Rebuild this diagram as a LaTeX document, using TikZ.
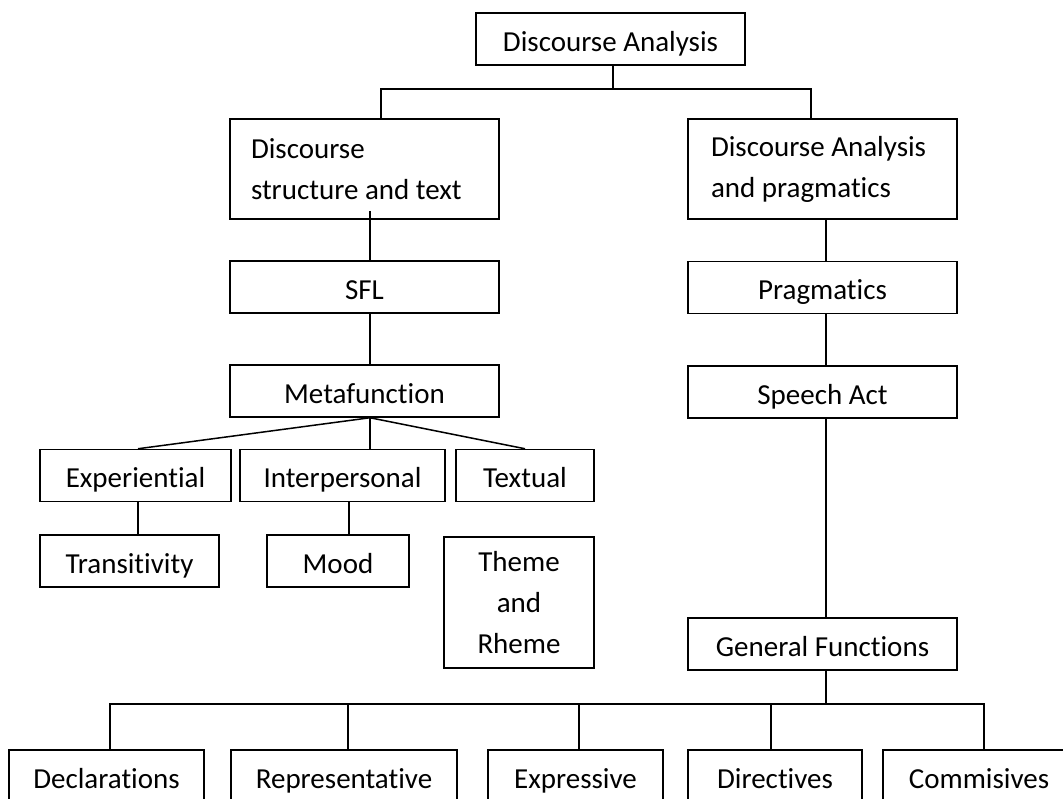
\documentclass[tikz,border=0pt]{standalone}
\usepackage{fontspec}
\setmainfont{Carlito}[Ligatures={NoCommon}, RawFeature={-liga;-clig;-dlig}]

\begin{document}
\begin{tikzpicture}[
    x=1pt, y=-1pt,
    every node/.style={font=\fontsize{29}{41}\selectfont},
    boxed/.style={rectangle, draw, line width=1.5pt, inner sep=0pt},
    topic/.style={boxed, minimum height=52pt, text height=24pt, text depth=0pt},
    twoline/.style={boxed, minimum width=269pt, minimum height=100pt, align=flush left},
    link/.style={draw, line width=1.5pt}
]
\useasboundingbox (0,0) rectangle (1063,798);
\clip (0,0) rectangle (1063,798);

% upper levels
\node[topic, minimum width=269pt] (da) at (610.5,39) {Discourse Analysis};
\node[twoline, text width=227pt] (dst) at (364.5,169) {Discourse\\structure and text};
\node[twoline, text width=223pt] (dap) at (822.5,169) {Discourse Analysis\\and pragmatics};

% SFL side
\node[topic, minimum width=269pt] (sfl) at (364.5,287) {SFL};
\node[topic, minimum width=269pt] (meta) at (364.5,391) {Metafunction};
\node[topic, minimum width=191pt] (exp) at (135.5,475.5) {Experiential};
\node[topic, minimum width=205pt] (inter) at (342.5,475.5) {Interpersonal};
\node[topic, minimum width=138pt] (txt) at (525,475.5) {Textual};
\node[topic, minimum width=179pt] (trans) at (129.5,561) {Transitivity};
\node[topic, minimum width=142pt] (mood) at (338,561) {Mood};
\node[boxed, minimum width=150pt, minimum height=131pt, align=center] (theme) at (519,602.5) {Theme\\and\\Rheme};

% pragmatics side
\node[topic, minimum width=269pt] (prag) at (822.5,287.5) {Pragmatics};
\node[topic, minimum width=269pt] (sact) at (822.5,392) {Speech Act};
\node[topic, minimum width=269pt] (genf) at (822.5,644) {General Functions};

% bottom row
\node[topic, minimum width=195pt] (decl) at (106.5,776) {Declarations};
\node[topic, minimum width=226pt] (repr) at (344,776) {Representative};
\node[topic, minimum width=175pt] (expr) at (575.5,776) {Expressive};
\node[topic, minimum width=174pt] (dirc) at (775,776) {Directives};
\node[topic, minimum width=192pt] (comm) at (979,776) {Commisives};

% columns and buses
\coordinate (xa) at (613,0);
\coordinate (bl) at (381,89);
\coordinate (br) at (811,89);
\coordinate (xl) at (370,0);
\coordinate (xr) at (826,0);
\coordinate (xe) at (138,0);
\coordinate (xi) at (349,0);
\coordinate (b1) at (110,704);
\coordinate (b2) at (348,704);
\coordinate (b3) at (579,704);
\coordinate (b4) at (771,704);
\coordinate (b5) at (984,704);

\draw[link] (da.south -| xa) -- (xa |- bl);
\draw[link] (dst.north -| bl) -- (bl) -- (br) -- (dap.north -| br);
\draw[link] (dst.south -| xl) ++(0,-9) -- (sfl.north -| xl);
\draw[link] (sfl.south -| xl) -- (meta.north -| xl);
\draw[link] (meta.south -| xl) -- (exp.north -| xe);
\draw[link] (meta.south -| xl) -- (inter.north -| xl);
\draw[link] (meta.south -| xl) -- (txt.north);
\draw[link] (exp.south -| xe) -- (trans.north -| xe);
\draw[link] (inter.south -| xi) -- (mood.north -| xi);

\draw[link] (dap.south -| xr) -- (prag.north -| xr);
\draw[link] (prag.south -| xr) -- (sact.north -| xr);
\draw[link] (sact.south -| xr) -- (genf.north -| xr);
\draw[link] (genf.south -| xr) -- (xr |- b1);
\draw[link] (decl.north -| b1) -- (b1) -- (b5) -- (comm.north -| b5);
\foreach \n/\c in {repr/b2, expr/b3, dirc/b4}
    \draw[link] (\c) -- (\n.north -| \c);

\end{tikzpicture}
\end{document}
